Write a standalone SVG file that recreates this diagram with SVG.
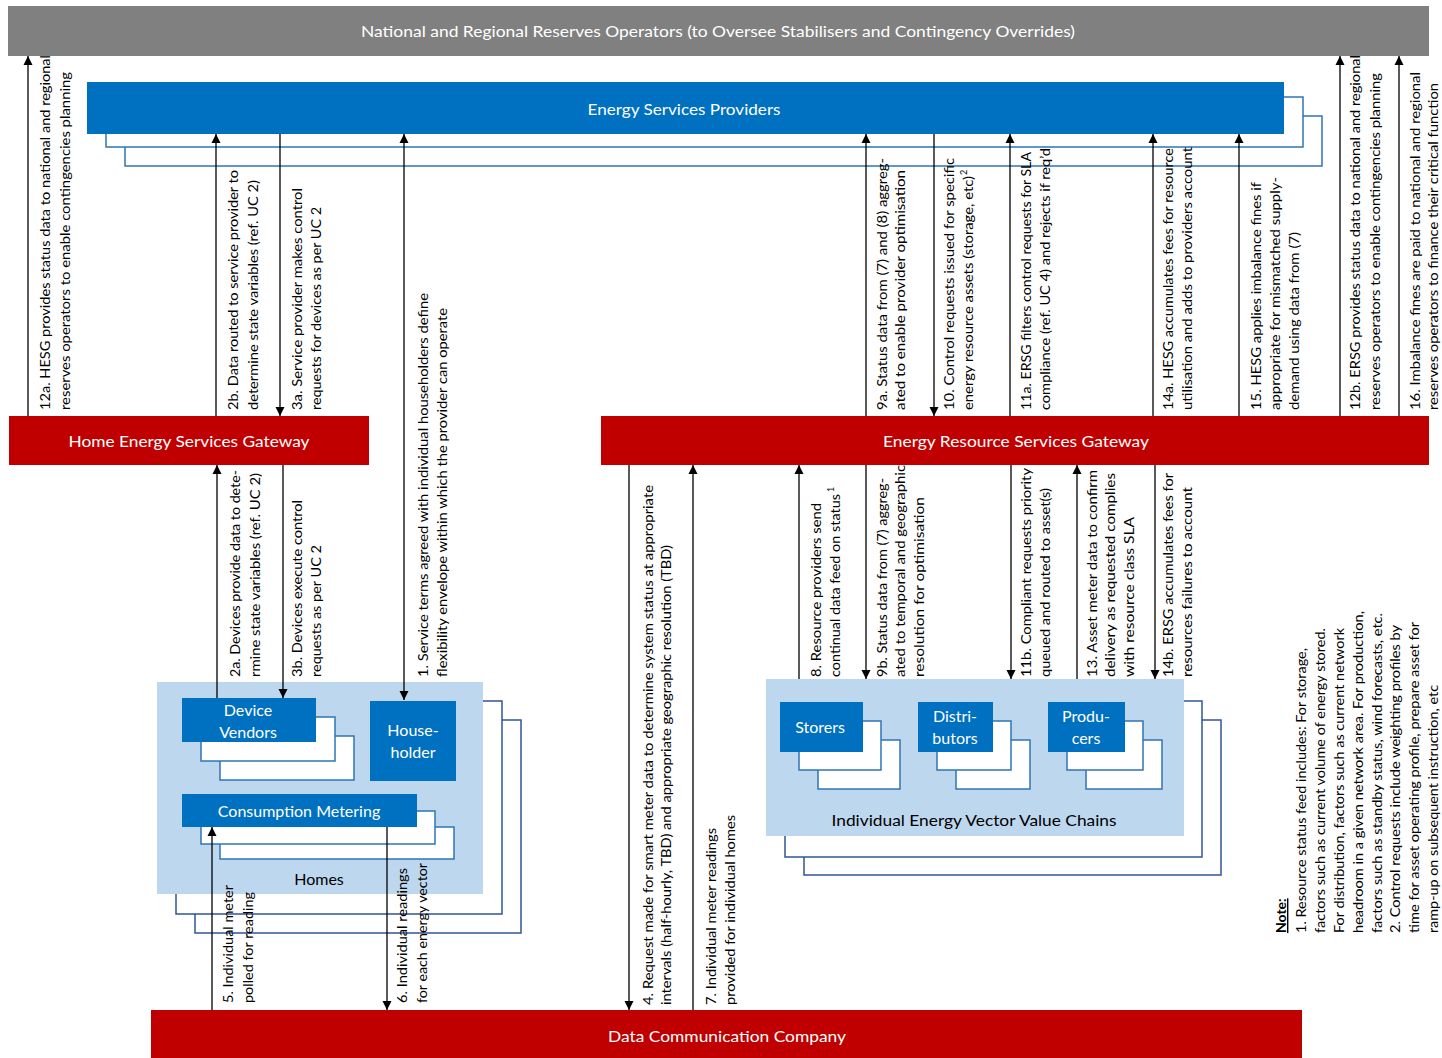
<svg xmlns="http://www.w3.org/2000/svg" width="1442" height="1058" viewBox="0 0 1442 1058">
<defs>
<marker id="ah" viewBox="0 0 10 10" refX="10" refY="5" markerWidth="9" markerHeight="10" markerUnits="userSpaceOnUse" orient="auto-start-reverse">
<path d="M0,0 L10,5 L0,10 z" fill="#000"/>
</marker>
<style>
.bar{fill:#808080}
.red{fill:#C00000}
.blue{fill:#0070C0}
.lb{fill:#BDD7EE}
.stk{fill:#fff;stroke:#2E75B6;stroke-width:1.5}
.stkd{fill:#fff;stroke:#2F5597;stroke-width:1.5}
.hd{font-family:Lato,'Liberation Sans',sans-serif;font-size:16px;fill:#fff;text-anchor:middle}
.bt{font-family:Lato,'Liberation Sans',sans-serif;font-size:16px;fill:#000;text-anchor:middle}
.lbl text{font-family:Lato,'Liberation Sans',sans-serif;font-size:14px;fill:#000}
.lbl text.sup{font-size:9px}
.cn line{stroke:#000;stroke-width:1.3;marker-end:url(#ah)}
</style>
</defs>
<g id="reserves-operators">
<rect class="bar" x="8" y="6" width="1421" height="50"/>
<text class="hd" x="718" y="37" textLength="714" lengthAdjust="spacingAndGlyphs">National and Regional Reserves Operators (to Oversee Stabilisers and Contingency Overrides)</text>
</g>
<g id="energy-services-providers">
<rect class="stk" x="125" y="116" width="1197" height="50"/>
<rect class="stk" x="106" y="97" width="1197" height="50"/>
<rect class="blue" x="87" y="82" width="1197" height="52"/>
<text class="hd" x="684" y="115" textLength="193" lengthAdjust="spacingAndGlyphs">Energy Services Providers</text>
</g>
<g id="hesg">
<rect class="red" x="9" y="416" width="360" height="49"/>
<text class="hd" x="189" y="447" textLength="241" lengthAdjust="spacingAndGlyphs">Home Energy Services Gateway</text>
</g>
<g id="ersg">
<rect class="red" x="601" y="416" width="828" height="49"/>
<text class="hd" x="1016" y="447" textLength="266" lengthAdjust="spacingAndGlyphs">Energy Resource Services Gateway</text>
</g>
<g id="dcc">
<rect class="red" x="151" y="1010" width="1151" height="48"/>
<text class="hd" x="727" y="1042" textLength="238" lengthAdjust="spacingAndGlyphs">Data Communication Company</text>
</g>
<g id="homes">
<rect class="stkd" x="195" y="720" width="326" height="213"/>
<rect class="stkd" x="176" y="701" width="326" height="213"/>
<rect class="lb" x="157" y="682" width="326" height="212"/>
<text class="bt" x="319" y="885">Homes</text>
</g>
<g id="device-vendors">
<rect class="stk" x="220" y="736" width="134" height="44"/>
<rect class="stk" x="201" y="717" width="134" height="44"/>
<rect class="blue" x="182" y="698" width="134" height="44"/>
<text class="hd" x="248" y="716">Device</text>
<text class="hd" x="248" y="738">Vendors</text>
</g>
<g id="householder">
<rect class="blue" x="370" y="701" width="86" height="80"/>
<text class="hd" x="413" y="736">House-</text>
<text class="hd" x="413" y="758">holder</text>
</g>
<g id="consumption-metering">
<rect class="stk" x="220" y="827" width="234" height="32"/>
<rect class="stk" x="201" y="811" width="234" height="33"/>
<rect class="blue" x="182" y="794" width="235" height="33"/>
<text class="hd" x="299" y="817">Consumption Metering</text>
</g>
<g id="value-chains">
<rect class="stkd" x="804" y="720" width="417" height="155"/>
<rect class="stkd" x="785" y="701" width="417" height="156"/>
<rect class="lb" x="766" y="679" width="418" height="157"/>
<text class="bt" x="974" y="826" textLength="285" lengthAdjust="spacingAndGlyphs">Individual Energy Vector Value Chains</text>
</g>
<g id="storers">
<rect class="stk" x="818" y="740" width="82" height="49"/>
<rect class="stk" x="799" y="721" width="82" height="49"/>
<rect class="blue" x="780" y="702" width="83" height="50"/>
<text class="hd" x="820" y="733">Storers</text>
</g>
<g id="distributors">
<rect class="stk" x="956" y="740" width="74" height="49"/>
<rect class="stk" x="937" y="721" width="74" height="49"/>
<rect class="blue" x="918" y="702" width="75" height="50"/>
<text class="hd" x="955" y="722">Distri-</text>
<text class="hd" x="955" y="744">butors</text>
</g>
<g id="producers">
<rect class="stk" x="1086" y="740" width="76" height="49"/>
<rect class="stk" x="1067" y="721" width="76" height="49"/>
<rect class="blue" x="1048" y="702" width="77" height="50"/>
<text class="hd" x="1086" y="722">Produ-</text>
<text class="hd" x="1086" y="744">cers</text>
</g>
<g id="connectors" class="cn">
<line x1="28" y1="416" x2="28" y2="56"/>
<line x1="216" y1="416" x2="216" y2="134"/>
<line x1="280" y1="134" x2="280" y2="416"/>
<line x1="404" y1="700" x2="404" y2="134" style="marker-start:url(#ah)"/>
<line x1="866" y1="416" x2="866" y2="134"/>
<line x1="934" y1="134" x2="934" y2="416"/>
<line x1="1010" y1="416" x2="1010" y2="134"/>
<line x1="1153" y1="416" x2="1153" y2="134"/>
<line x1="1239" y1="416" x2="1239" y2="134"/>
<line x1="1340" y1="416" x2="1340" y2="56"/>
<line x1="1399" y1="416" x2="1399" y2="56"/>
<line x1="217" y1="698" x2="217" y2="465"/>
<line x1="283" y1="465" x2="283" y2="698"/>
<line x1="212" y1="1010" x2="212" y2="827"/>
<line x1="387" y1="827" x2="387" y2="1010"/>
<line x1="629" y1="465" x2="629" y2="1010"/>
<line x1="693" y1="1010" x2="693" y2="465"/>
<line x1="799" y1="679" x2="799" y2="465"/>
<line x1="866" y1="465" x2="866" y2="679"/>
<line x1="1011" y1="465" x2="1011" y2="679"/>
<line x1="1077" y1="679" x2="1077" y2="465"/>
<line x1="1155" y1="465" x2="1155" y2="679"/>
</g>
<g id="labels" class="lbl">
<text transform="translate(50,410) rotate(-90)" textLength="355" lengthAdjust="spacingAndGlyphs">12a. HESG provides status data to national and regional</text>
<text transform="translate(70,410) rotate(-90)" textLength="338" lengthAdjust="spacingAndGlyphs">reserves operators to enable contingencies planning</text>
<text transform="translate(238,410) rotate(-90)" textLength="240" lengthAdjust="spacingAndGlyphs">2b. Data routed to service provider to</text>
<text transform="translate(258,410) rotate(-90)" textLength="230" lengthAdjust="spacingAndGlyphs">determine state variables (ref. UC 2)</text>
<text transform="translate(302,410) rotate(-90)" textLength="222" lengthAdjust="spacingAndGlyphs">3a. Service provider makes control</text>
<text transform="translate(321,410) rotate(-90)" textLength="203" lengthAdjust="spacingAndGlyphs">requests for devices as per UC 2</text>
<text transform="translate(428,677) rotate(-90)" textLength="384" lengthAdjust="spacingAndGlyphs">1. Service terms agreed with individual householders define</text>
<text transform="translate(447,677) rotate(-90)" textLength="369" lengthAdjust="spacingAndGlyphs">flexibility envelope within which the provider can operate</text>
<text transform="translate(887,410) rotate(-90)" textLength="252" lengthAdjust="spacingAndGlyphs">9a. Status data from (7) and (8) aggreg-</text>
<text transform="translate(905,410) rotate(-90)" textLength="240" lengthAdjust="spacingAndGlyphs">ated to enable provider optimisation</text>
<text transform="translate(954,410) rotate(-90)" textLength="252" lengthAdjust="spacingAndGlyphs">10. Control requests issued for specific</text>
<text transform="translate(973,410) rotate(-90)" textLength="234" lengthAdjust="spacingAndGlyphs">energy resource assets (storage, etc)</text>
<text class="sup" transform="translate(967,175) rotate(-90)">2</text>
<text transform="translate(1031,410) rotate(-90)" textLength="258" lengthAdjust="spacingAndGlyphs">11a. ERSG filters control requests for SLA</text>
<text transform="translate(1050,410) rotate(-90)" textLength="262" lengthAdjust="spacingAndGlyphs">compliance (ref. UC 4) and rejects if req’d</text>
<text transform="translate(1173,410) rotate(-90)" textLength="262" lengthAdjust="spacingAndGlyphs">14a. HESG accumulates fees for resource</text>
<text transform="translate(1192,410) rotate(-90)" textLength="263" lengthAdjust="spacingAndGlyphs">utilisation and adds to providers account</text>
<text transform="translate(1261,410) rotate(-90)" textLength="228" lengthAdjust="spacingAndGlyphs">15. HESG applies imbalance fines if</text>
<text transform="translate(1280,410) rotate(-90)" textLength="233" lengthAdjust="spacingAndGlyphs">appropriate for mismatched supply-</text>
<text transform="translate(1299,410) rotate(-90)" textLength="178" lengthAdjust="spacingAndGlyphs">demand using data from (7)</text>
<text transform="translate(1360,410) rotate(-90)" textLength="355" lengthAdjust="spacingAndGlyphs">12b. ERSG provides status data to national and regional</text>
<text transform="translate(1380,410) rotate(-90)" textLength="337" lengthAdjust="spacingAndGlyphs">reserves operators to enable contingencies planning</text>
<text transform="translate(1420,410) rotate(-90)" textLength="338" lengthAdjust="spacingAndGlyphs">16. Imbalance fines are paid to national and regional</text>
<text transform="translate(1438,410) rotate(-90)" textLength="327" lengthAdjust="spacingAndGlyphs">reserves operators to finance their critical function</text>
<text transform="translate(240,677) rotate(-90)" textLength="207" lengthAdjust="spacingAndGlyphs">2a. Devices provide data to dete-</text>
<text transform="translate(260,677) rotate(-90)" textLength="204" lengthAdjust="spacingAndGlyphs">rmine state variables (ref. UC 2)</text>
<text transform="translate(302,677) rotate(-90)" textLength="177" lengthAdjust="spacingAndGlyphs">3b. Devices execute control</text>
<text transform="translate(321,677) rotate(-90)" textLength="132" lengthAdjust="spacingAndGlyphs">requests as per UC 2</text>
<text transform="translate(653,1005) rotate(-90)" textLength="520" lengthAdjust="spacingAndGlyphs">4. Request made for smart meter data to determine system status at appropriate</text>
<text transform="translate(671,1005) rotate(-90)" textLength="460" lengthAdjust="spacingAndGlyphs">intervals (half-hourly, TBD) and appropriate geographic resolution (TBD)</text>
<text transform="translate(716,1005) rotate(-90)" textLength="177" lengthAdjust="spacingAndGlyphs">7. Individual meter readings</text>
<text transform="translate(735,1005) rotate(-90)" textLength="190" lengthAdjust="spacingAndGlyphs">provided for individual homes</text>
<text transform="translate(233,1003) rotate(-90)" textLength="118" lengthAdjust="spacingAndGlyphs">5. Individual meter</text>
<text transform="translate(253,1003) rotate(-90)" textLength="111" lengthAdjust="spacingAndGlyphs">polled for reading</text>
<text transform="translate(407,1003) rotate(-90)" textLength="135" lengthAdjust="spacingAndGlyphs">6. Individual readings</text>
<text transform="translate(427,1003) rotate(-90)" textLength="140" lengthAdjust="spacingAndGlyphs">for each energy vector</text>
<text transform="translate(821,677) rotate(-90)" textLength="174" lengthAdjust="spacingAndGlyphs">8. Resource providers send</text>
<text transform="translate(840,677) rotate(-90)" textLength="183" lengthAdjust="spacingAndGlyphs">continual data feed on status</text>
<text class="sup" transform="translate(834,492) rotate(-90)">1</text>
<text transform="translate(887,677) rotate(-90)" textLength="199" lengthAdjust="spacingAndGlyphs">9b. Status data from (7) aggreg-</text>
<text transform="translate(905,677) rotate(-90)" textLength="212" lengthAdjust="spacingAndGlyphs">ated to temporal and geographic</text>
<text transform="translate(924,677) rotate(-90)" textLength="180" lengthAdjust="spacingAndGlyphs">resolution for optimisation</text>
<text transform="translate(1031,677) rotate(-90)" textLength="209" lengthAdjust="spacingAndGlyphs">11b. Compliant requests priority</text>
<text transform="translate(1050,677) rotate(-90)" textLength="189" lengthAdjust="spacingAndGlyphs">queued and routed to asset(s)</text>
<text transform="translate(1097,677) rotate(-90)" textLength="207" lengthAdjust="spacingAndGlyphs">13. Asset meter data to confirm</text>
<text transform="translate(1115,677) rotate(-90)" textLength="204" lengthAdjust="spacingAndGlyphs">delivery as requested complies</text>
<text transform="translate(1134,677) rotate(-90)" textLength="160" lengthAdjust="spacingAndGlyphs">with resource class SLA</text>
<text transform="translate(1173,677) rotate(-90)" textLength="204" lengthAdjust="spacingAndGlyphs">14b. ERSG accumulates fees for</text>
<text transform="translate(1192,677) rotate(-90)" textLength="190" lengthAdjust="spacingAndGlyphs">resources failures to account</text>
</g>
<g id="note" class="lbl">
<text transform="translate(1286,933) rotate(-90)" style="font-weight:bold;text-decoration:underline">Note:</text>
<text transform="translate(1306,933) rotate(-90)" textLength="285" lengthAdjust="spacingAndGlyphs">1. Resource status feed includes: For storage,</text>
<text transform="translate(1325,933) rotate(-90)" textLength="305" lengthAdjust="spacingAndGlyphs">factors such as current volume of energy stored.</text>
<text transform="translate(1344,933) rotate(-90)" textLength="305" lengthAdjust="spacingAndGlyphs">For distribution, factors such as current network</text>
<text transform="translate(1363,933) rotate(-90)" textLength="322" lengthAdjust="spacingAndGlyphs">headroom in a given network area. For production,</text>
<text transform="translate(1382,933) rotate(-90)" textLength="320" lengthAdjust="spacingAndGlyphs">factors such as standby status, wind forecasts, etc.</text>
<text transform="translate(1400,933) rotate(-90)" textLength="308" lengthAdjust="spacingAndGlyphs">2. Control requests include weighting profiles by</text>
<text transform="translate(1419,933) rotate(-90)" textLength="311" lengthAdjust="spacingAndGlyphs">time for asset operating profile, prepare asset for</text>
<text transform="translate(1438,933) rotate(-90)" textLength="248" lengthAdjust="spacingAndGlyphs">ramp-up on subsequent instruction, etc</text>
</g>
</svg>
